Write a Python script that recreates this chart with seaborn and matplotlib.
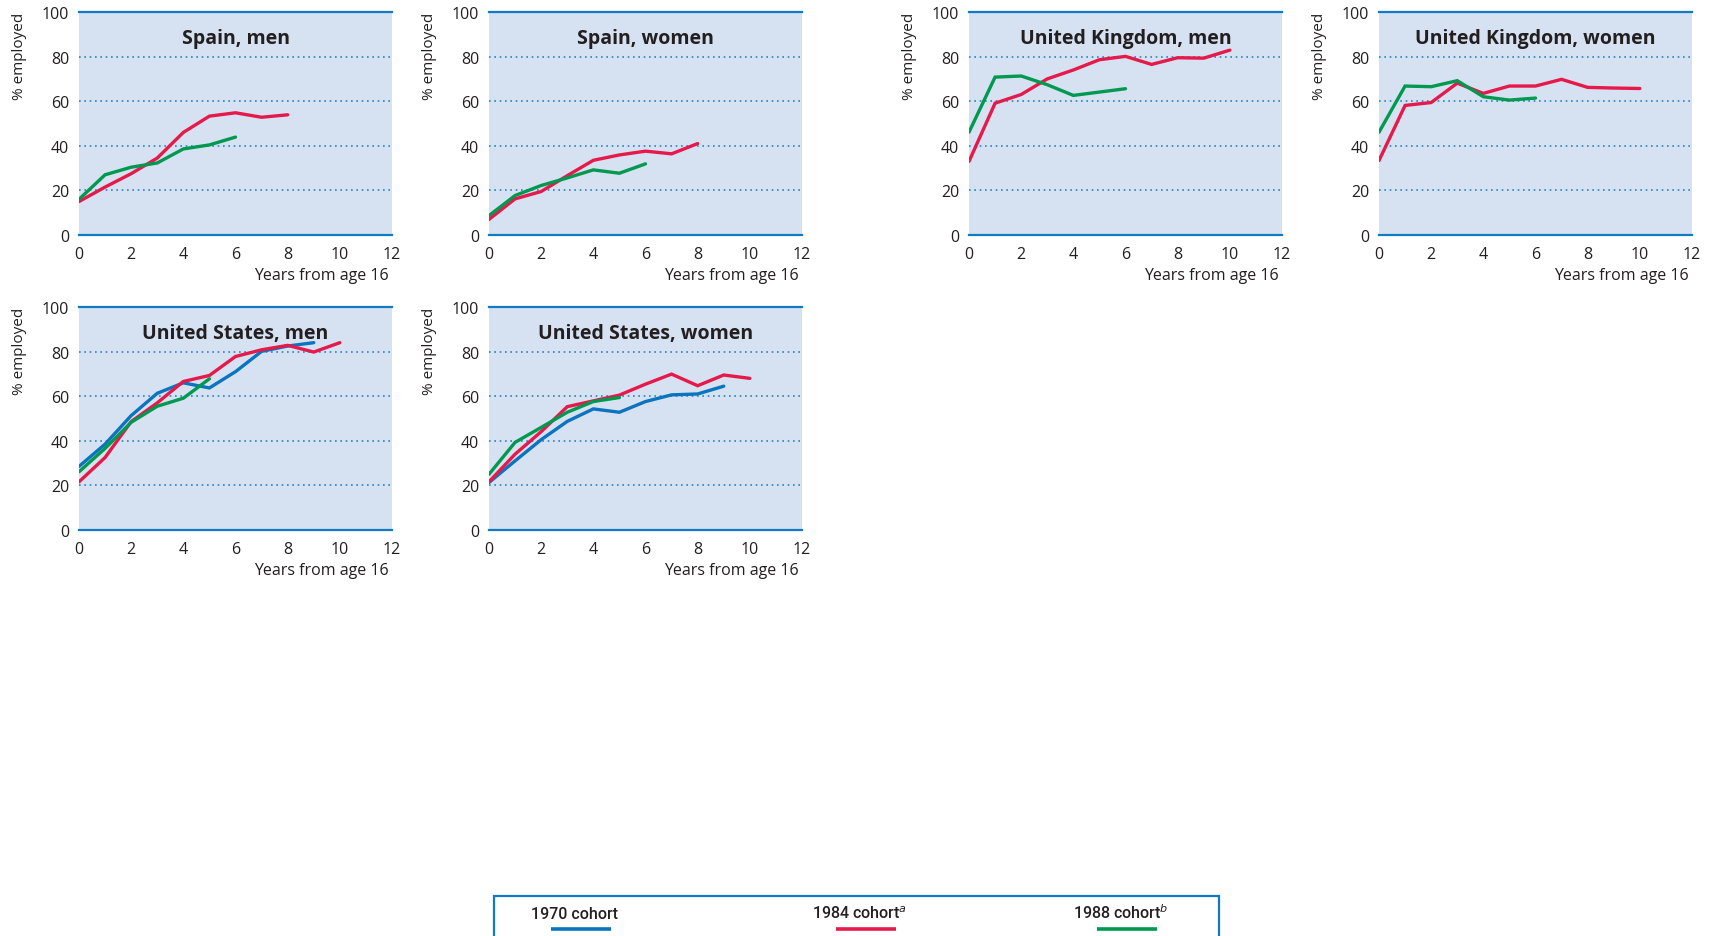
import matplotlib
matplotlib.use("Agg")
import matplotlib.pyplot as plt
from matplotlib.lines import Line2D
from matplotlib.patches import Rectangle
import seaborn as sns
import pandas as pd

# ---- data: % employed by years from age 16, per cohort ----
cohorts = ["1970 cohort", "1984 cohort", "1988 cohort"]

spain_men_1984 = [15, 21.5, 27.5, 34.5, 46, 53.3, 54.8, 52.8, 53.9]
spain_men_1988 = [16, 27, 30.4, 32.3, 38.6, 40.4, 43.9]

spain_women_1984 = [7, 16.2, 19.5, 26.6, 33.5, 35.9, 37.6, 36.4, 41]
spain_women_1988 = [8.7, 17.7, 22.2, 25.6, 29.2, 27.7, 31.9]

uk_men_1984 = [33, 59.1, 63, 70, 74, 78.6, 80.1, 76.5, 79.5, 79.3, 82.9]
uk_men_1988 = [46.1, 70.8, 71.3, 67.4, 62.6, 64.1, 65.6]

uk_women_1984 = [33.4, 58.1, 59.4, 68.1, 63.5, 66.8, 66.8, 69.8, 66.2, 65.9, 65.7]
uk_women_1988 = [46.1, 66.8, 66.5, 69.2, 62, 60.5, 61.4]

us_men_1970 = [28.5, 38.5, 51.3, 61.3, 66, 63.7, 71, 80.1, 82.5, 84]
us_men_1984 = [21.6, 32.5, 48.6, 57, 66.6, 69.3, 77.8, 80.8, 82.8, 79.8, 84]
us_men_1988 = [26.1, 36.6, 48.3, 55.5, 59.1, 67.8]

us_women_1970 = [21.3, 31, 40.5, 48.7, 54.3, 52.8, 57.6, 60.6, 61, 64.5]
us_women_1984 = [21.6, 34, 44.1, 55.3, 57.9, 60.5, 65.4, 69.9, 64.7, 69.5, 68]
us_women_1988 = [25, 39.3, 46, 52.8, 57.6, 59.4]

panel_titles = ["Spain, men", "Spain, women", "United Kingdom, men",
                "United Kingdom, women", "United States, men", "United States, women"]
panel_series = [
    {"1984 cohort": spain_men_1984, "1988 cohort": spain_men_1988},
    {"1984 cohort": spain_women_1984, "1988 cohort": spain_women_1988},
    {"1984 cohort": uk_men_1984, "1988 cohort": uk_men_1988},
    {"1984 cohort": uk_women_1984, "1988 cohort": uk_women_1988},
    {"1970 cohort": us_men_1970, "1984 cohort": us_men_1984, "1988 cohort": us_men_1988},
    {"1970 cohort": us_women_1970, "1984 cohort": us_women_1984, "1988 cohort": us_women_1988},
]

x_ticks = [0, 2, 4, 6, 8, 10, 12]
y_ticks = [0, 20, 40, 60, 80, 100]
legend_labels = ["1970 cohort", "1984 cohort$^{a}$", "1988 cohort$^{b}$"]

# ---- styling ----
sns.set_theme(style="white")
plt.rcParams["font.family"] = ["Open Sans", "DejaVu Sans"]
plt.rcParams["mathtext.fontset"] = "dejavusans"

palette = {"1970 cohort": "#0a74be", "1984 cohort": "#e6194b", "1988 cohort": "#00994f"}
FACE = "#d6e2f1"
AXIS_BLUE = "#1279c3"
GRID_BLUE = "#1f86d0"
TEXT = "#231f20"

W, H = 1710, 937
fig = plt.figure(figsize=(W / 100, H / 100), dpi=100)
fig.patch.set_facecolor("white")

# panel boxes in pixels: left, top, right, bottom
boxes = [
    (79, 13, 392, 236), (489, 13, 802, 236), (969, 13, 1282, 236), (1379, 13, 1692, 236),
    (79, 308, 392, 531), (489, 308, 802, 531),
]


def px_rect(l, t, r, b):
    return [l / W, 1 - b / H, (r - l) / W, (b - t) / H]


for title, series, box in zip(panel_titles, panel_series, boxes):
    ax = fig.add_axes(px_rect(*box))
    rows = []
    for name, vals in series.items():
        for yr, v in enumerate(vals):
            rows.append({"year": yr, "pct": v, "cohort": name})
    df = pd.DataFrame(rows)
    order = [c for c in cohorts if c in series]
    sns.lineplot(data=df, x="year", y="pct", hue="cohort", hue_order=order,
                 palette=palette, linewidth=2.4, legend=False, ax=ax,
                 solid_joinstyle="miter")

    ax.set_facecolor(FACE)
    ax.set_xlim(0, 12)
    ax.set_ylim(0, 100)
    for side in ("left", "right"):
        ax.spines[side].set_visible(False)
    for side in ("top", "bottom"):
        ax.spines[side].set_color(AXIS_BLUE)
        ax.spines[side].set_linewidth(1.6)
        ax.spines[side].set_zorder(5)

    for gy in (20, 40, 60, 80):
        ax.axhline(gy, color=GRID_BLUE, linestyle=(0, (1, 2.2)), linewidth=1.2, zorder=0.5)

    ax.set_xticks(x_ticks)
    ax.set_xticklabels([str(t) for t in x_ticks])
    ax.set_xticks([2, 4, 6, 8, 10], minor=True)
    ax.set_yticks(y_ticks)
    ax.set_yticklabels([str(t) for t in y_ticks])
    ax.tick_params(axis="both", which="major", length=0, labelsize=11.5, labelcolor=TEXT)
    ax.tick_params(axis="x", which="major", pad=8)
    ax.tick_params(axis="y", which="major", pad=7)
    ax.tick_params(axis="x", which="minor", direction="in", length=7, width=1.5,
                   color=AXIS_BLUE, bottom=True)

    ax.set_xlabel("Years from age 16", loc="right", fontsize=11.5, color=TEXT)
    ax.xaxis.set_label_coords(0.988, -0.142)
    ax.set_ylabel("% employed", loc="top", fontsize=11, color=TEXT)
    ax.yaxis.set_label_coords(-0.165, 1.0)

    ax.text(0.5, 1 - 26.5 / 223, title, transform=ax.transAxes, ha="center", va="center",
            fontsize=14, fontweight="bold", color=TEXT)

# ---- legend box at the bottom ----
fig.patches.append(Rectangle((494 / W, 1 - 960 / H), (1219 - 494) / W, (960 - 897) / H,
                             transform=fig.transFigure, fill=False,
                             edgecolor=AXIS_BLUE, linewidth=1.6))
text_centers = [574, 860, 1121]
line_spans = [(551, 611), (836, 896), (1097, 1157)]
for lab, cx, (l0, l1), c in zip(legend_labels, text_centers, line_spans, cohorts):
    fig.text(cx / W, 1 - 919 / H, lab, ha="center", va="baseline", fontsize=11.5,
             fontweight="medium", color=TEXT, family=["Roboto", "DejaVu Sans"])
    fig.add_artist(Line2D([l0 / W, l1 / W], [1 - 930 / H, 1 - 930 / H],
                          transform=fig.transFigure, color=palette[c],
                          linewidth=2.6, solid_capstyle="butt"))

fig.savefig("out.png", dpi=100)
